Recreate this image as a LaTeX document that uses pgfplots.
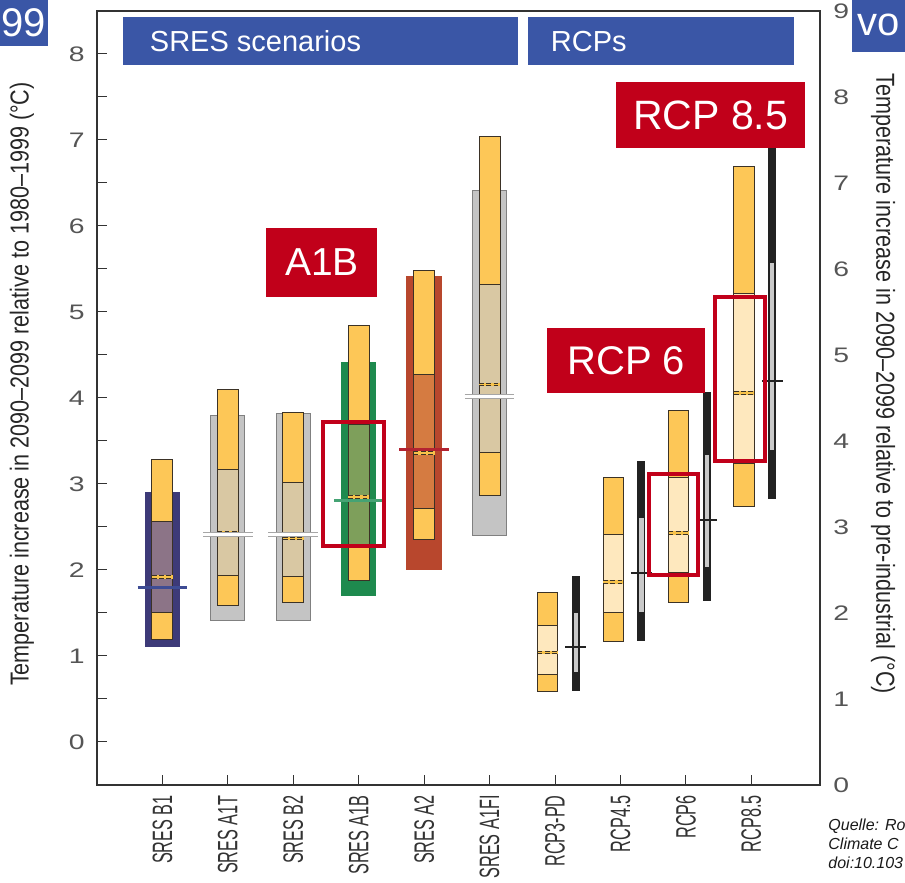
\documentclass[border=0pt]{standalone}
\usepackage{pgfplots}
\pgfplotsset{compat=1.18}
\usepackage{fontspec}
\setmainfont{Liberation Sans}
\newfontfamily\tickf[FakeStretch=1.35]{Liberation Sans}
\newfontfamily\condf[FakeStretch=0.58]{Liberation Sans}
\newfontfamily\labf[FakeStretch=0.83]{Liberation Sans}

\definecolor{obar}{HTML}{FDC757}
\definecolor{medy}{HTML}{F7C24A}
\definecolor{edge}{HTML}{3B3226}
\definecolor{bgB}{HTML}{3D3A78}
\definecolor{inB}{HTML}{8C7487}
\definecolor{lnB}{HTML}{3E4C94}
\definecolor{bgG}{HTML}{C4C4C4}
\definecolor{inT}{HTML}{D9C8A3}
\definecolor{bgGr}{HTML}{1E8A4E}
\definecolor{inGr}{HTML}{7E9F5B}
\definecolor{lnGr}{HTML}{45A374}
\definecolor{bgR}{HTML}{B8472D}
\definecolor{inR}{HTML}{D57B41}
\definecolor{lnR}{HTML}{B32331}
\definecolor{inL}{HTML}{FEE8BE}
\definecolor{blk}{HTML}{222222}
\definecolor{gin}{HTML}{C9C9C9}
\definecolor{hred}{HTML}{C1001A}
\definecolor{hblue}{HTML}{3A56A6}
\definecolor{tickc}{HTML}{555555}

\pgfplotsset{
  ob/.style={fill=obar, draw=edge, line width=0.5pt},
  inn/.style={fill=#1, draw=edge, line width=0.5pt},
}

\newcommand\rect[5]{\pgfmathsetmacro\xa{#2-#3}\pgfmathsetmacro\xb{#2+#3}\edef\doit{\noexpand\addplot[#1] coordinates {(\xa,#4) (\xb,#4) (\xb,#5) (\xa,#5)} --cycle;}\doit}
\newcommand\hl[4]{\pgfmathsetmacro\xa{#2-#3}\pgfmathsetmacro\xb{#2+#3}\edef\doit{\noexpand\addplot[#1] coordinates {(\xa,#4) (\xb,#4)};}\doit}
\newcommand\med[3]{\hl{medy, line width=1.7pt}{#1}{#2}{#3}\hl{edge, line width=0.4pt, dash pattern=on 2.4pt off 1.2pt, yshift=0.6pt}{#1}{#2}{#3}\hl{edge, line width=0.4pt, dash pattern=on 2.4pt off 1.2pt, yshift=-0.6pt}{#1}{#2}{#3}}

\begin{document}
\begin{tikzpicture}
\useasboundingbox (0pt,0pt) rectangle (452.5pt,441.5pt);

% ---------------- left axis: SRES (relative to 1980-1999) ----------------
\begin{axis}[
  at={(48.5pt,49pt)}, anchor=south west, scale only axis,
  width=361.5pt, height=387pt,
  xmin=-1, xmax=10.05, ymin=-0.5, ymax=8.5,
  clip=false,
  axis line style={draw=black!80, line width=0.6pt},
  xtick={0,...,9},
  xticklabels={SRES B1,SRES A1T,SRES B2,SRES A1B,SRES A2,SRES A1FI,RCP3-PD,RCP4.5,RCP6,RCP8.5},
  xtick pos=left, ytick pos=left,
  ytick={0,...,8},
  minor ytick={0.5,1.5,...,7.5},
  tick align=inside,
  major tick length=5pt, minor tick length=5pt,
  tick style={draw=black!80, line width=0.5pt},
  /pgf/number format/assume math mode=true,
  yticklabel style={font=\tickf\fontsize{10.5}{12}\selectfont, text=tickc, inner sep=0pt, anchor=east},
  yticklabel shift=6pt,
  xticklabel style={font=\condf\fontsize{14}{16}\selectfont, text=black!80, inner sep=0pt, rotate=90, anchor=east},
  xticklabel shift=5pt,
]
% header bars
\fill[hblue] (axis cs:-0.61,7.87) rectangle (axis cs:5.44,8.43);
\fill[hblue] (axis cs:5.58,7.87) rectangle (axis cs:9.66,8.43);
\node[anchor=west, text=white, font=\fontsize{14.5}{16}\selectfont, inner sep=0pt] at (axis cs:-0.61,8.15) [xshift=13.5pt] {SRES scenarios};
\node[anchor=west, text=white, font=\fontsize{14.5}{16}\selectfont, inner sep=0pt] at (axis cs:5.58,8.15) [xshift=11.5pt] {RCPs};

% SRES B1
\rect{fill=bgB, draw=none}{0}{0.27}{1.11}{2.91}
\rect{ob}{0}{0.16}{1.19}{3.29}
\rect{inn=inB}{0}{0.16}{1.50}{2.56}
\med{0}{0.16}{1.92}
\hl{lnB, line width=1.5pt}{0}{0.38}{1.80}
% SRES A1T
\rect{fill=bgG, draw=black!50, line width=0.4pt}{1}{0.26}{1.41}{3.80}
\rect{ob}{1}{0.16}{1.59}{4.10}
\rect{inn=inT}{1}{0.16}{1.94}{3.17}
\med{1}{0.16}{2.43}
\hl{black!35, line width=2.6pt}{1}{0.38}{2.41}
\hl{white, line width=1.3pt}{1}{0.38}{2.41}
% SRES B2
\rect{fill=bgG, draw=black!50, line width=0.4pt}{2}{0.26}{1.41}{3.82}
\rect{ob}{2}{0.16}{1.62}{3.83}
\rect{inn=inT}{2}{0.16}{1.92}{3.02}
\med{2}{0.16}{2.37}
\hl{black!35, line width=2.6pt}{2}{0.38}{2.41}
\hl{white, line width=1.3pt}{2}{0.38}{2.41}
% SRES A1B
\rect{fill=bgGr, draw=none}{3}{0.27}{1.70}{4.42}
\rect{ob}{3}{0.16}{1.88}{4.84}
\rect{inn=inGr}{3}{0.16}{2.30}{3.69}
\med{3}{0.16}{2.85}
\hl{lnGr, line width=1.5pt}{3}{0.38}{2.81}
% SRES A2
\rect{fill=bgR, draw=none}{4}{0.27}{2.00}{5.42}
\rect{ob}{4}{0.16}{2.36}{5.48}
\rect{inn=inR}{4}{0.16}{2.72}{4.27}
\med{4}{0.16}{3.36}
\hl{lnR, line width=1.6pt}{4}{0.38}{3.40}
% SRES A1FI
\rect{fill=bgG, draw=black!50, line width=0.4pt}{5}{0.26}{2.40}{6.41}
\rect{ob}{5}{0.16}{2.87}{7.04}
\rect{inn=inT}{5}{0.16}{3.37}{5.32}
\med{5}{0.16}{4.16}
\hl{black!35, line width=2.6pt}{5}{0.38}{4.02}
\hl{white, line width=1.3pt}{5}{0.38}{4.02}

% A1B highlight
\draw[hred, line width=2pt] (axis cs:2.46,2.28) rectangle (axis cs:3.38,3.72);
\end{axis}

% ---------------- right axis: RCPs (relative to pre-industrial) ----------------
\begin{axis}[
  at={(48.5pt,49pt)}, anchor=south west, scale only axis,
  width=361.5pt, height=387pt,
  xmin=-1, xmax=10.05, ymin=0, ymax=9,
  clip=false,
  axis x line=none, axis y line*=right,
  axis line style={draw=black!80, line width=0.6pt},
  ytick={0,...,9}, major tick length=0pt,
  /pgf/number format/assume math mode=true,
  yticklabel style={font=\tickf\fontsize{10.5}{12}\selectfont, text=tickc, inner sep=0pt, anchor=west},
  yticklabel shift=6.5pt,
]
% RCP3-PD
\rect{ob}{5.89}{0.155}{1.09}{2.24}
\rect{inn=inL}{5.89}{0.155}{1.28}{1.86}
\med{5.89}{0.155}{1.54}
\rect{fill=blk, draw=none}{6.32}{0.06}{1.09}{2.43}
\rect{fill=gin, draw=none}{6.32}{0.033}{1.31}{2.00}
\hl{blk, line width=1pt}{6.32}{0.16}{1.60}
% RCP4.5
\rect{ob}{6.89}{0.155}{1.67}{3.57}
\rect{inn=inL}{6.89}{0.155}{2.01}{2.91}
\med{6.89}{0.155}{2.36}
\rect{fill=blk, draw=none}{7.32}{0.06}{1.67}{3.77}
\rect{fill=gin, draw=none}{7.32}{0.033}{2.01}{3.11}
\hl{blk, line width=1pt}{7.32}{0.16}{2.47}
% RCP6
\rect{ob}{7.89}{0.155}{2.12}{4.36}
\rect{inn=inL}{7.89}{0.155}{2.47}{3.57}
\med{7.89}{0.155}{2.93}
\rect{fill=blk, draw=none}{8.32}{0.06}{2.14}{4.57}
\rect{fill=gin, draw=none}{8.32}{0.033}{2.53}{3.84}
\hl{blk, line width=1pt}{8.32}{0.16}{3.08}
% RCP8.5
\rect{ob}{8.89}{0.155}{3.24}{7.19}
\rect{inn=inL}{8.89}{0.155}{3.74}{5.71}
\med{8.89}{0.155}{4.56}
\rect{fill=blk, draw=none}{9.32}{0.06}{3.33}{7.60}
\rect{fill=gin, draw=none}{9.32}{0.033}{3.90}{6.07}
\hl{blk, line width=1pt}{9.32}{0.16}{4.70}

% highlights
\draw[hred, line width=2pt] (axis cs:7.43,2.44) rectangle (axis cs:8.19,3.62);
\draw[hred, line width=2pt] (axis cs:8.45,3.77) rectangle (axis cs:9.21,5.67);

% label boxes
\node[fill=hred, text=white, minimum width=55.5pt, minimum height=34.5pt, inner sep=0pt, font=\fontsize{19.5}{22}\selectfont] at (axis cs:2.437,6.076) {A1B};
\node[fill=hred, text=white, minimum width=79pt, minimum height=32.5pt, inner sep=0pt, font=\fontsize{20}{22}\selectfont] at (axis cs:7.09,4.936) {RCP 6};
\node[fill=hred, text=white, minimum width=94.5pt, minimum height=33pt, inner sep=0pt, font=\fontsize{20.5}{22}\selectfont] at (axis cs:8.38,7.79) {RCP 8.5};
\end{axis}

% axis titles
\node[rotate=90, font=\labf\fontsize{13}{15}\selectfont, text=black!85, inner sep=0pt] at (11pt,249.5pt) {Temperature increase in 2090–2099 relative to 1980–1999 (°C)};
\node[rotate=-90, font=\labf\fontsize{13}{15}\selectfont, text=black!85, inner sep=0pt] at (441.5pt,249.5pt) {Temperature increase in 2090–2099 relative to pre-industrial (°C)};

% slide fragments
\begin{scope}
\clip (0pt,0pt) rectangle (452.5pt,441.5pt);
\fill[hblue] (0pt,418.5pt) rectangle (24pt,441.5pt);
\node[text=white, font=\fontsize{20}{22}\selectfont, inner sep=0pt] at (12pt,430pt) {99};
\fill[hblue] (426pt,415.5pt) rectangle (452.5pt,441.5pt);
\node[text=white, font=\fontsize{20}{22}\selectfont, inner sep=0pt, anchor=west] at (428.5pt,429pt) {vo};
\node[anchor=base west, font=\itshape\fontsize{8}{10}\selectfont, text=black!90, inner sep=0pt] at (414pt,26pt) {Quelle: Ro};
\node[anchor=base west, font=\itshape\fontsize{8}{10}\selectfont, text=black!90, inner sep=0pt] at (414pt,16.5pt) {Climate C};
\node[anchor=base west, font=\itshape\fontsize{8}{10}\selectfont, text=black!90, inner sep=0pt] at (414pt,7pt) {doi:10.103};
\end{scope}
\end{tikzpicture}
\end{document}
